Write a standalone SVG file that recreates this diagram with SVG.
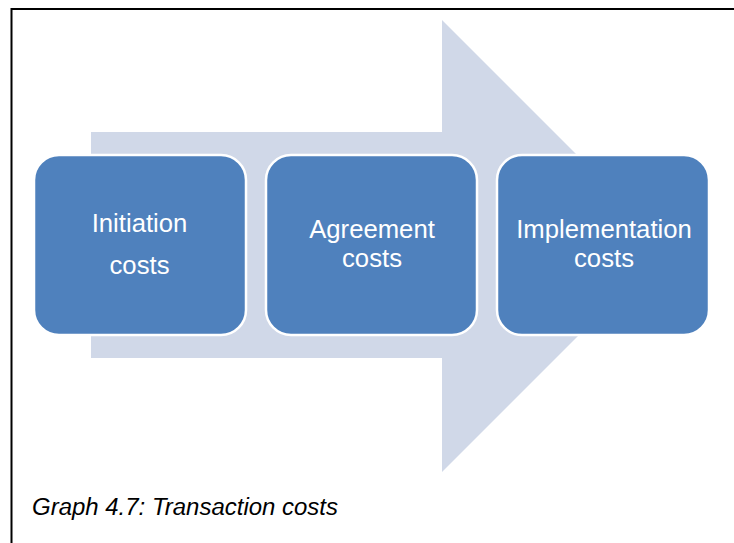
<svg xmlns="http://www.w3.org/2000/svg" width="734" height="543" viewBox="0 0 734 543">
<style>
.box{fill:#4F81BD;stroke:#FFFFFF;stroke-width:2.5}
.lbl{font-family:"Liberation Sans",Arial,sans-serif;font-size:25.7px;fill:#FFFFFF;text-anchor:middle}
.cap{font-family:"Liberation Sans",Arial,sans-serif;font-size:23px;font-style:italic;fill:#000000}
</style>
<rect width="734" height="543" fill="#FFFFFF"/>
<g id="frame" fill="none" stroke="#000000" stroke-width="2">
<path d="M11.5,543 V9 H734"/>
</g>
<g id="connectors">
<path id="arrow" d="M91,132 H442 V20 L668,246 L442,472 V358 H91 Z" fill="#D0D8E8"/>
</g>
<g id="node-initiation">
<rect class="box" x="34" y="155" width="212" height="180" rx="25" ry="25"/>
<text class="lbl" x="139.5" y="232">Initiation</text>
<text class="lbl" x="139.5" y="274">costs</text>
</g>
<g id="node-agreement">
<rect class="box" x="266" y="155" width="211" height="180" rx="25" ry="25"/>
<text class="lbl" x="372" y="238">Agreement</text>
<text class="lbl" x="372" y="267">costs</text>
</g>
<g id="node-implementation">
<rect class="box" x="497" y="155" width="212" height="180" rx="25" ry="25"/>
<text class="lbl" x="604" y="238">Implementation</text>
<text class="lbl" x="604" y="267">costs</text>
</g>
<g id="caption">
<text class="cap" x="32" y="515" textLength="306" lengthAdjust="spacingAndGlyphs">Graph 4.7: Transaction costs</text>
</g>
</svg>
